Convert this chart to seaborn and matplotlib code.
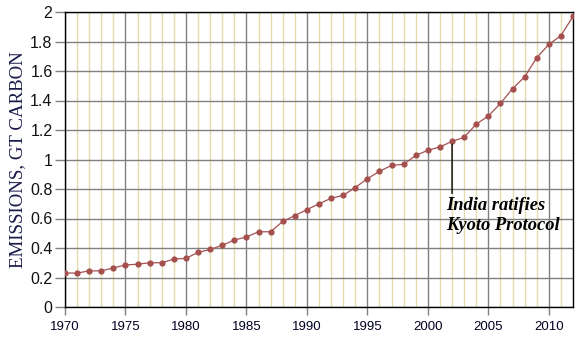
import matplotlib
matplotlib.use("Agg")
import matplotlib.pyplot as plt
import seaborn as sns
import pandas as pd
from matplotlib.ticker import MultipleLocator

years = list(range(1970, 2013))
emissions = [0.23, 0.23, 0.245, 0.245, 0.265, 0.285, 0.29, 0.30, 0.30, 0.325,
             0.33, 0.37, 0.39, 0.418, 0.454, 0.475, 0.51, 0.51, 0.58, 0.62,
             0.66, 0.70, 0.737, 0.757, 0.81, 0.87, 0.92, 0.96, 0.967, 1.028,
             1.062, 1.085, 1.123, 1.15, 1.24, 1.295, 1.38, 1.48, 1.56, 1.69,
             1.78, 1.84, 1.97]
y_ticks = [0, 0.2, 0.4, 0.6, 0.8, 1, 1.2, 1.4, 1.6, 1.8, 2]
y_tick_labels = ["0", "0.2", "0.4", "0.6", "0.8", "1", "1.2", "1.4", "1.6", "1.8", "2"]
x_ticks = [1970, 1975, 1980, 1985, 1990, 1995, 2000, 2005, 2010]
annot_year = 2002
annot_text = "India ratifies\nKyoto Protocol"
ylabel = "EMISSIONS, GT CARBON"

df = pd.DataFrame({"year": years, "emissions": emissions})

sns.set_style("white")
plt.rcParams['font.family'] = ['Liberation Sans', 'DejaVu Sans']

fig = plt.figure(figsize=(5.85, 3.45), dpi=100)
ax = fig.add_axes([65/585, 1 - 307/345, (573 - 65)/585, (307 - 12)/345])

color = "#A5504F"
sns.lineplot(data=df, x="year", y="emissions", ax=ax, color=color, lw=0.9,
             marker="o", markersize=4.5, markeredgewidth=0, zorder=5)

ax.set_xlim(1970, 2012)
ax.set_ylim(0, 2)
ax.set_xticks(x_ticks)
ax.set_xticklabels([str(x) for x in x_ticks])
ax.xaxis.set_minor_locator(MultipleLocator(1))
ax.set_yticks(y_ticks)
ax.set_yticklabels(y_tick_labels)

ax.grid(which="minor", axis="x", color="#E2DCB0", lw=1.0, zorder=0)
ax.grid(which="major", axis="x", color="#808080", lw=1.0, zorder=1)
ax.grid(which="major", axis="y", color="#808080", lw=1.0, zorder=1)
ax.set_axisbelow(True)

for s in ax.spines.values():
    s.set_visible(True)
    s.set_color("black")
    s.set_linewidth(1.0)

ax.tick_params(axis="y", which="major", length=7, color="#808080", width=1,
               labelsize=11.5, labelcolor="#111111", pad=2, left=True)
ax.tick_params(axis="x", which="major", length=6, color="#808080", width=1,
               labelsize=9.5, labelcolor="#000020", pad=4, bottom=True)
ax.tick_params(axis="x", which="minor", length=0)

ax.set_xlabel("")
ax.set_ylabel(ylabel, family=["Liberation Serif", "DejaVu Serif"], fontsize=13.6,
              color="#1A1A4A", labelpad=3)

y_pt = emissions[years.index(annot_year)]
# vertical leader line from the data point down to the note
ax.annotate("", xy=(annot_year, y_pt - 0.02), xytext=(annot_year, 0.77),
            arrowprops=dict(arrowstyle="-", color="black", lw=1.0,
                            shrinkA=0, shrinkB=0), zorder=6)
ax.text(annot_year - 0.5, 0.745, annot_text, ha="left", va="top",
        family=["Liberation Serif", "DejaVu Serif"], fontsize=13.3,
        fontweight="bold", fontstyle="italic", color="black",
        linespacing=1.2, zorder=6)

fig.savefig("out.png", dpi=100)
